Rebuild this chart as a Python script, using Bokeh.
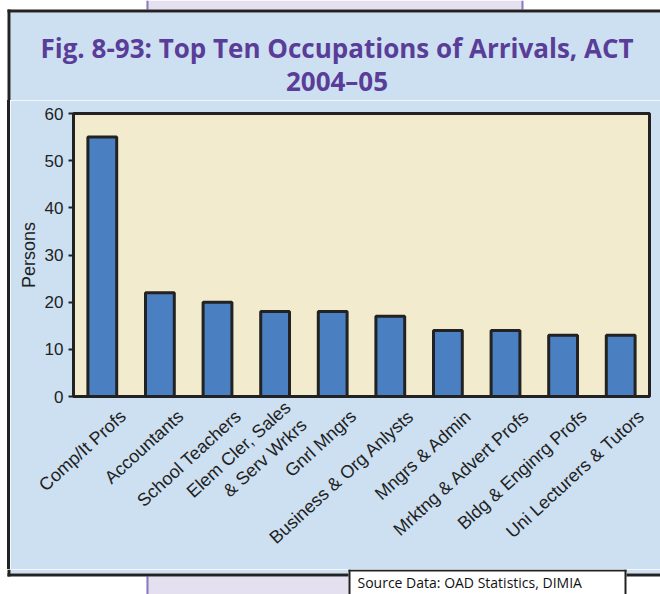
from bokeh.plotting import figure
from bokeh.models import Range1d, FixedTicker, LinearAxis, ColumnDataSource, Div
from bokeh.layouts import column, row
from bokeh.core.properties import value
from bokeh.embed import file_html
from bokeh.resources import INLINE

categories = ["Comp/It Profs", "Accountants", "School Teachers", "Elem Cler, Sales\n& Serv Wrkrs",
              "Gnrl Mngrs", "Business & Org Anlysts", "Mngrs & Admin", "Mrktng & Advert Profs",
              "Bldg & Enginrg Profs", "Uni Lecturers & Tutors"]
persons = [55, 22, 20, 18, 18, 17, 14, 14, 13, 13]
y_ticks = [0, 10, 20, 30, 40, 50, 60]
title_lines = ["Fig. 8-93: Top Ten Occupations of Arrivals, ACT", "2004–05"]
source_text = "Source Data: OAD Statistics, DIMIA"

BLUE = "#cde0f1"
CREAM = "#f2ebcd"
DARK = "#222222"
LAV = "#e4e0ef"
LAV_EDGE = "#8a78c0"
PURPLE = "#5a3d98"
BAR = "#4a7fc1"

def deco_fig(w, h, x0, y0):
    f = figure(width=w, height=h, output_backend="svg", toolbar_location=None,
               x_range=Range1d(x0, x0 + w), y_range=Range1d(y0 + h, y0),
               x_axis_type=None, y_axis_type=None, min_border=0)
    f.min_border_left = f.min_border_right = f.min_border_top = f.min_border_bottom = 0
    f.outline_line_color = None
    f.background_fill_color = "white"
    f.border_fill_color = "white"
    f.grid.visible = False
    return f

# top part (page y 0-100): frame strip, panel top, title
top = deco_fig(660, 100, 0, 0)
top.quad(left=[146], right=[522], top=[0], bottom=[9], fill_color=LAV, line_color=None)
top.quad(left=[146, 521], right=[148, 523], top=[0, 0], bottom=[9, 9], fill_color=LAV_EDGE, line_color=None)
top.quad(left=[10], right=[660], top=[12], bottom=[100], fill_color=BLUE, line_color=None)
top.quad(left=[7, 7], right=[660, 10], top=[9, 9], bottom=[12, 100], fill_color=DARK, line_color=None)
top.text(x=[336.5, 336.5], y=[47, 80], text=title_lines, text_font=value("Open Sans"),
         text_font_style="bold", text_font_size="26px", text_color=PURPLE,
         text_align="center", text_baseline="alphabetic")

# left strip (page x 0-10, y 100-569): white margin and panel border
left = Div(text="", width=10, height=469, margin=0,
           styles={"background": "linear-gradient(to right, #ffffff 0px, #ffffff 7px, #222222 7px, #222222 10px)",
                   "padding": "0px"})

# main chart (page x 10-660, y 100-569)
idx = list(range(len(categories)))
src = ColumnDataSource(dict(idx=idx, persons=persons, cat=categories))
p = figure(width=650, height=469, output_backend="svg", toolbar_location=None,
           x_range=Range1d(-0.5, len(categories) - 0.5), y_range=Range1d(0, 60),
           x_axis_location=None,
           min_border_left=63, min_border_right=11, min_border_top=13, min_border_bottom=173)
p.extra_x_ranges = {"lab": Range1d(-0.86, len(categories) - 0.86)}
p.border_fill_color = BLUE
p.background_fill_color = CREAM
p.outline_line_color = DARK
p.outline_line_width = 3
p.grid.visible = False

p.vbar(x="idx", top="persons", source=src, width=0.5, fill_color=BAR, line_color=DARK, line_width=3)

p.yaxis.ticker = FixedTicker(ticks=y_ticks)
p.yaxis.axis_label = "Persons"
p.yaxis.axis_label_text_font = "Liberation Sans"
p.yaxis.axis_label_text_font_style = "normal"
p.yaxis.axis_label_text_font_size = "18px"
p.yaxis.axis_label_text_color = DARK
p.yaxis.axis_label_standoff = 3
p.yaxis.major_label_text_font = "Liberation Sans"
p.yaxis.major_label_text_font_size = "17px"
p.yaxis.major_label_text_color = DARK
p.yaxis.major_tick_out = 5
p.yaxis.major_tick_in = 0
p.yaxis.major_tick_line_width = 2
p.yaxis.major_tick_line_color = DARK
p.yaxis.minor_tick_line_color = None
p.yaxis.axis_line_width = 3
p.yaxis.axis_line_color = DARK

xax = LinearAxis(x_range_name="lab", ticker=FixedTicker(ticks=idx),
                 major_label_overrides={i: c for i, c in enumerate(categories)})
xax.major_tick_line_color = None
xax.minor_tick_line_color = None
xax.major_tick_out = 0
xax.major_label_standoff = 17
xax.major_label_orientation = 0.74
xax.major_label_text_font = "Liberation Sans"
xax.major_label_text_font_size = "18px"
xax.major_label_text_color = DARK
xax.axis_line_width = 3
xax.axis_line_color = DARK
p.add_layout(xax, "below")

# bottom strip (page y 569-594)
bot = deco_fig(660, 25, 0, 569)
bot.quad(left=[10], right=[660], top=[569], bottom=[573], fill_color=BLUE, line_color=None)
bot.quad(left=[146], right=[522], top=[576], bottom=[594], fill_color=LAV, line_color=None)
bot.quad(left=[146, 521], right=[148, 523], top=[576, 576], bottom=[594, 594], fill_color=LAV_EDGE, line_color=None)
bot.quad(left=[7, 7], right=[10, 660], top=[569, 573], bottom=[576, 576], fill_color=DARK, line_color=None)
bot.quad(left=[348], right=[626], top=[569], bottom=[594], fill_color="white", line_color=None)
bot.quad(left=[348, 348, 624], right=[626, 350, 626], top=[569, 569, 569], bottom=[571, 594, 594],
         fill_color=DARK, line_color=None)
bot.text(x=[357], y=[582], text=[source_text], text_font=value("Open Sans"), text_font_size="14px",
         text_color="#111111", text_baseline="alphabetic", text_align="left")

layout = column(top, row(left, p), bot)
open("out.html", "w").write(file_html(layout, INLINE))
